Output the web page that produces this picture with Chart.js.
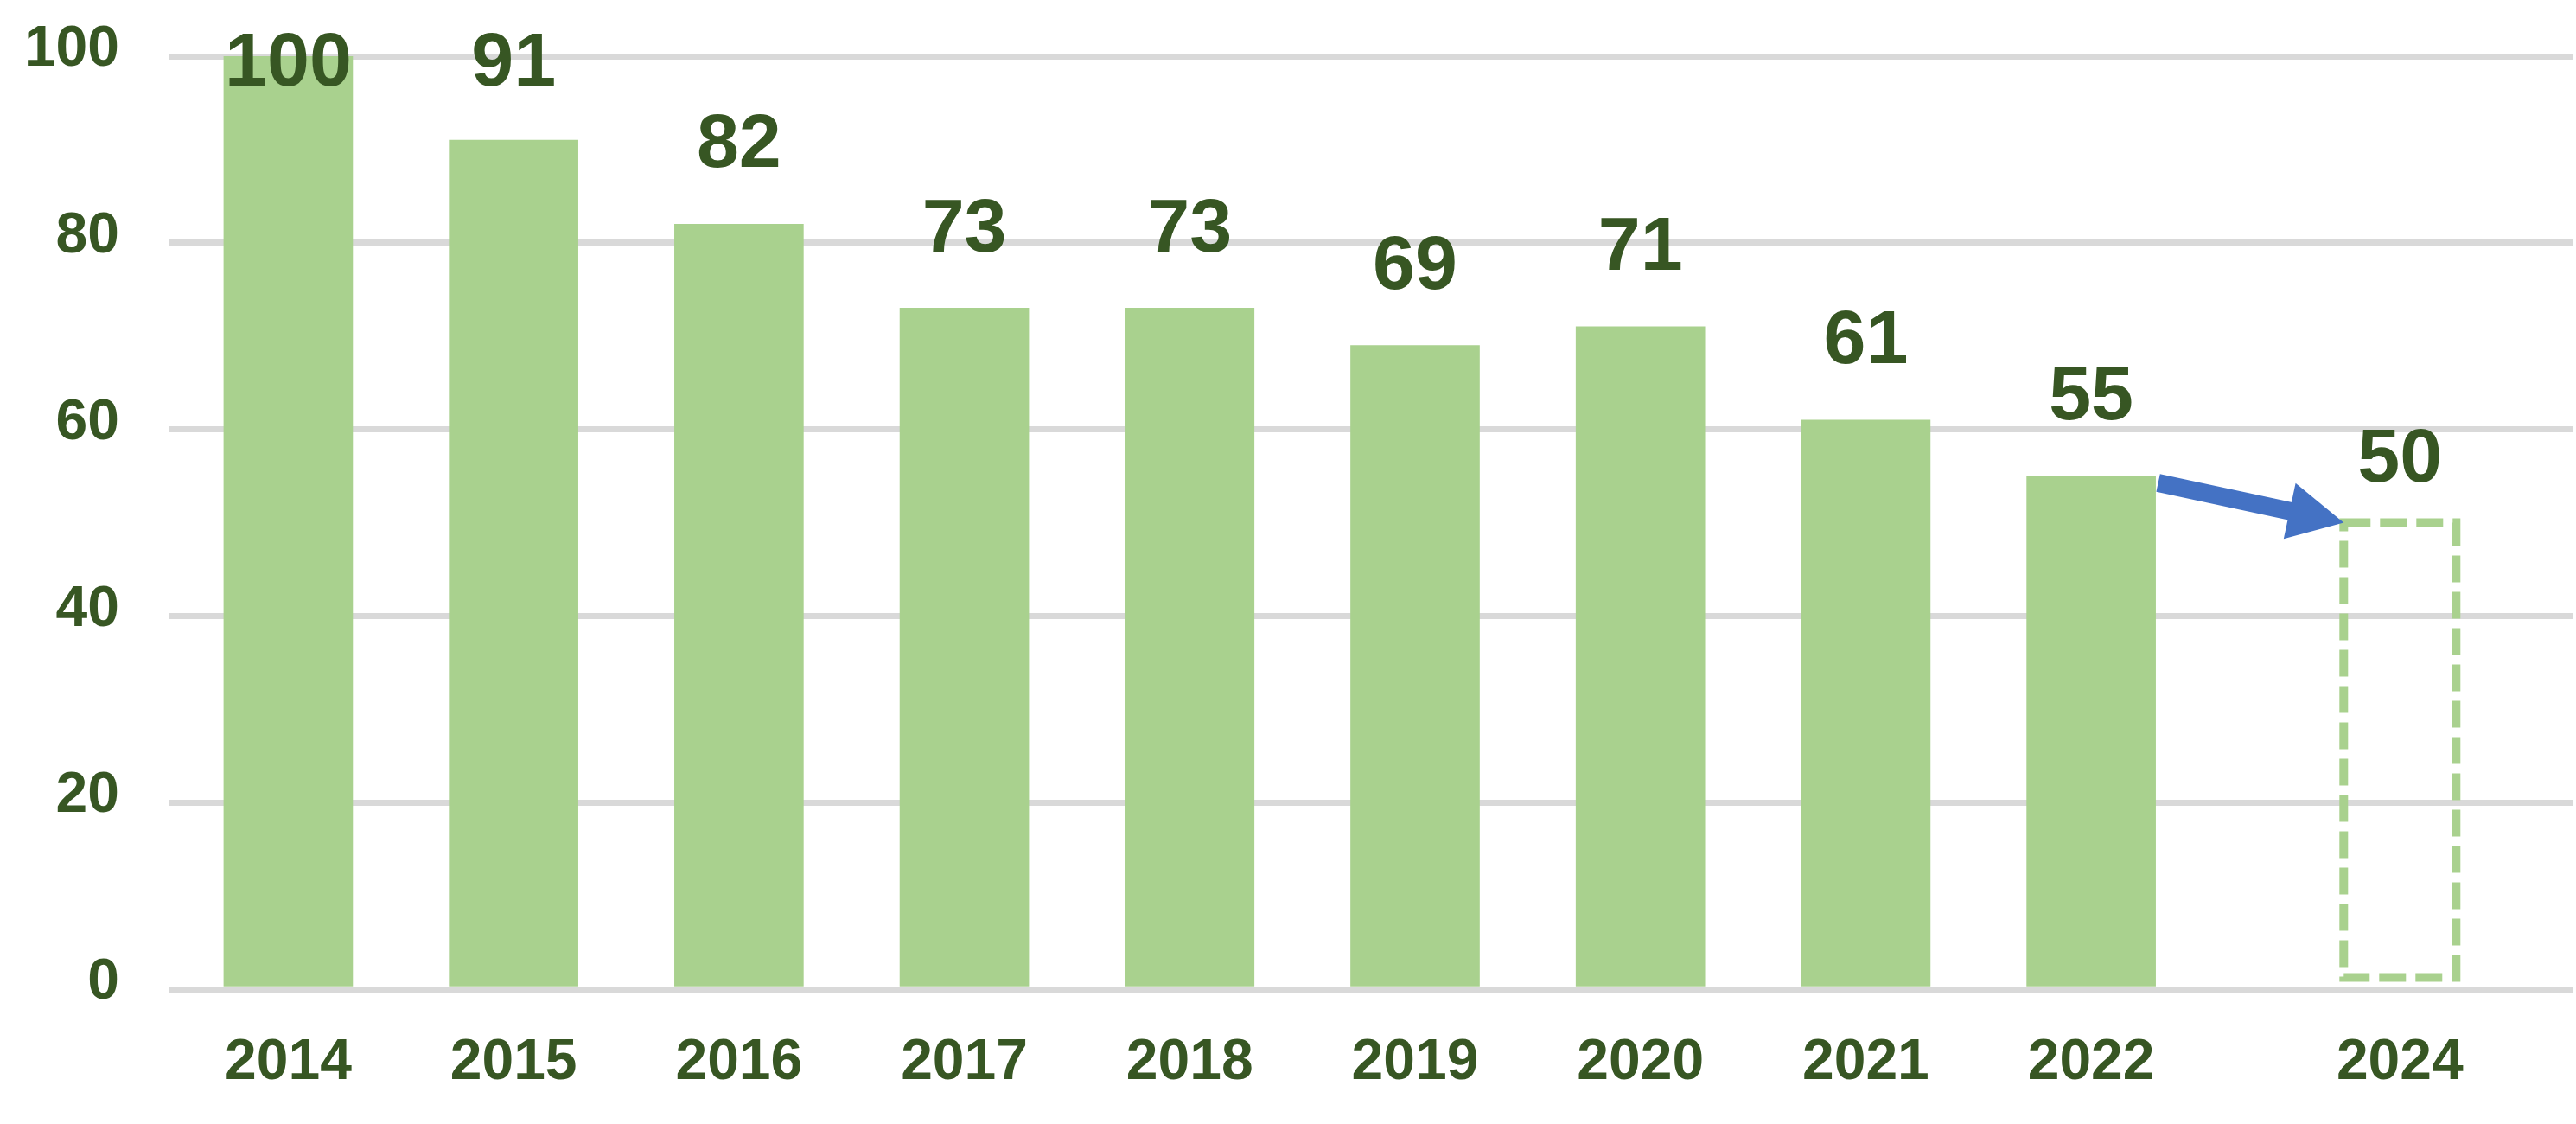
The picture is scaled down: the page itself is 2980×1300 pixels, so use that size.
<!DOCTYPE html>
<html>
<head>
<meta charset="utf-8">
<script src="https://cdn.jsdelivr.net/npm/chart.js@4.4.1/dist/chart.umd.min.js"></script>
<style>
  html, body { margin: 0; padding: 0; background: #fff; }
</style>
</head>
<body>
<canvas id="grafico" width="2980" height="1300"></canvas>
<script>
// Datos del gráfico
const years = ["2014", "2015", "2016", "2017", "2018", "2019", "2020", "2021", "2022"];
const values = [100, 91, 82, 73, 73, 69, 71, 61, 55];
const targetYear = "2024";
const targetValue = 50;
const yTicks = [0, 20, 40, 60, 80, 100];

// Estilo
const verde = "#A9D18E";
const verdeOscuro = "#375623";
const azul = "#4472C4";
const fuente = '"Liberation Sans", Arial, sans-serif';
const targetGap = 1.37; // separación extra antes de la barra objetivo (en ranuras)
const targetX = years.length - 1 + targetGap;

// Etiquetas, caja punteada y flecha
const anotaciones = {
  id: "anotaciones",
  afterDatasetsDraw(chart) {
    const ctx = chart.ctx;
    const top = chart.chartArea.top;
    const reales = chart.getDatasetMeta(0).data;
    const objetivo = chart.getDatasetMeta(1).data[0];

    ctx.save();
    ctx.font = "bold 88px " + fuente;
    ctx.fillStyle = verdeOscuro;
    ctx.textAlign = "center";
    ctx.textBaseline = "middle";
    reales.forEach((bar, i) => {
      ctx.fillText(String(values[i]), bar.x, Math.max(bar.y - 90, top + 10));
    });

    // caja punteada del objetivo
    const w = objetivo.width;
    const x0 = objetivo.x - w / 2;
    ctx.setLineDash([31, 11]);
    ctx.lineWidth = 10;
    ctx.strokeStyle = verde;
    ctx.strokeRect(x0, objetivo.y, w, objetivo.base - objetivo.y - 10);
    ctx.setLineDash([]);
    ctx.fillText(String(targetValue), objetivo.x, objetivo.y - 72);

    // flecha desde la última barra hasta la esquina de la caja
    const last = reales[reales.length - 1];
    const sx = last.x + last.width / 2 + 3;
    const sy = last.y + 8;
    const tx = x0;
    const ty = objetivo.y;
    const ang = Math.atan2(ty - sy, tx - sx);
    const headLen = 64;
    const headHalf = 33;
    const bx = tx - headLen * Math.cos(ang);
    const by = ty - headLen * Math.sin(ang);
    ctx.strokeStyle = azul;
    ctx.lineWidth = 21;
    ctx.beginPath();
    ctx.moveTo(sx, sy);
    ctx.lineTo(bx + 2 * Math.cos(ang), by + 2 * Math.sin(ang));
    ctx.stroke();
    ctx.fillStyle = azul;
    ctx.beginPath();
    ctx.moveTo(tx, ty);
    ctx.lineTo(bx + headHalf * Math.sin(ang), by - headHalf * Math.cos(ang));
    ctx.lineTo(bx - headHalf * Math.sin(ang), by + headHalf * Math.cos(ang));
    ctx.closePath();
    ctx.fill();
    ctx.restore();
  },
};

new Chart(document.getElementById("grafico"), {
  type: "bar",
  data: {
    datasets: [
      {
        label: "実績",
        data: years.map((y, i) => ({ x: i, y: values[i] })),
        backgroundColor: verde,
        barThickness: 149,
        grouped: false,
      },
      {
        label: "目標",
        data: [{ x: targetX, y: targetValue }],
        backgroundColor: "rgba(0,0,0,0)",
        borderWidth: 0,
        barThickness: 130,
        grouped: false,
      },
    ],
  },
  options: {
    responsive: false,
    animation: false,
    devicePixelRatio: 1,
    layout: { padding: { top: 65, right: 4, left: 0, bottom: 0 } },
    plugins: {
      legend: { display: false },
      tooltip: { enabled: false },
    },
    scales: {
      x: {
        type: "linear",
        offset: false,
        min: -0.531,
        max: 10.136,
        grid: { display: false, drawTicks: false },
        border: { display: false },
        afterBuildTicks: (scale) => {
          scale.ticks = years.map((y, i) => ({ value: i })).concat([{ value: targetX }]);
        },
        afterFit: (scale) => {
          scale.height = 156;
        },
        ticks: {
          autoSkip: false,
          maxRotation: 0,
          padding: 46,
          color: verdeOscuro,
          font: { family: fuente, size: 66, weight: "bold" },
          callback: (v) => (v === targetX ? targetYear : years[v]),
        },
      },
      y: {
        min: 0,
        max: 100,
        afterBuildTicks: (scale) => {
          scale.ticks = yTicks.map((v) => ({ value: v }));
        },
        afterFit: (scale) => {
          scale.width = 195;
          scale.paddingTop = 0;
          scale.paddingBottom = 0;
        },
        grid: { color: "#D9D9D9", lineWidth: 7, drawTicks: false },
        border: { display: false },
        ticks: {
          padding: 57,
          labelOffset: -7,
          color: verdeOscuro,
          font: { family: fuente, size: 66, weight: "bold" },
        },
      },
    },
  },
  plugins: [anotaciones],
});
</script>
</body>
</html>
